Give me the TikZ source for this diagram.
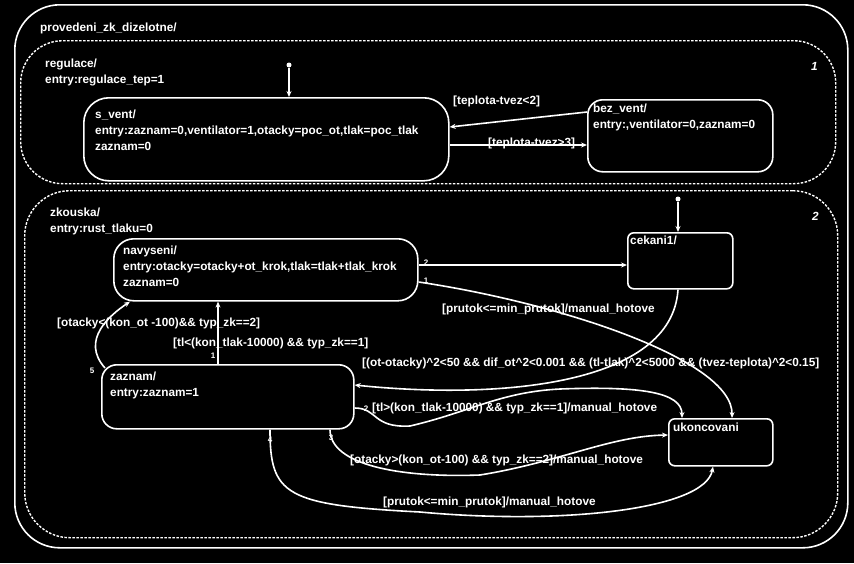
\documentclass[tikz,border=0pt]{standalone}
\usepackage{fontspec}
\setmainfont{Liberation Sans}
\usetikzlibrary{arrows.meta,calc}
\newcommand{\hot}{/manual\_hotove}
\newcommand{\pw}{\textasciicircum}

\begin{document}
\begin{tikzpicture}[
  x=1pt, y=-1pt,
  font=\fontsize{11.8}{16}\selectfont\bfseries,
  text=white,
  >={Stealth[length=6pt,width=5pt]},
  chart/.style={draw=white, line width=1.6pt, rounded corners=45pt, anchor=north west, inner sep=0pt},
  region/.style={draw=white, line width=1.4pt, dash pattern=on 2.5pt off 1.5pt, rounded corners=42pt, anchor=north west, inner sep=0pt},
  st/.style={draw=white, line width=1.6pt, anchor=north west, inner sep=0pt},
  tx/.style={anchor=north west, align=left, inner sep=0pt},
  lb/.style={anchor=west, inner sep=0pt},
  nr/.style={font=\fontsize{8}{9}\selectfont\bfseries, inner sep=0pt},
  dot/.style={circle, fill=white, inner sep=0pt, minimum size=5pt},
  tr/.style={->, draw=white, line width=1.6pt}]

\fill[black] (0,0) rectangle (854,563);
\useasboundingbox (0,0) rectangle (854,563);

% ===== chart =====
\node[chart, minimum width=833, minimum height=543] (main) at (14,4) {};
\node[tx] (main-t) at (40,23) {provedeni\_zk\_dizelotne/};

% ===== 1 regulace =====
\node[region, minimum width=815, minimum height=143] (regulace) at (20,40) {};
\node[tx] (regulace-t) at (45,59) {regulace/\\entry:regulace\_tep=1};
\node[lb] (regulace-n) at (811,66) {\itshape 1};

\node[st, rounded corners=25pt, minimum width=365, minimum height=83] (svent) at (83,97) {};
\node[tx] (svent-t) at (95,110) {s\_vent/\\entry:zaznam=0,ventilator=1,otacky=poc\_ot,tlak=poc\_tlak\\zaznam=0};
\node[st, rounded corners=15pt, minimum width=185, minimum height=72] (bezvent) at (587,99) {};
\node[tx] (bezvent-t) at (593,104) {bez\_vent/\\entry:,ventilator=0,zaznam=0};

\node[dot] (d1) at (289,65) {};
\node[lb] (l1) at (453,101) {[teplota-tvez<2]};
\node[lb] (l2) at (488,143) {[teplota-tvez>3]};

% ===== 2 zkouska =====
\node[region, rounded corners=45pt, minimum width=813, minimum height=347] (zkouska) at (24,190) {};
\node[tx] (zkouska-t) at (50,208) {zkouska/\\entry:rust\_tlaku=0};
\node[lb] (zkouska-n) at (812,216) {\itshape 2};

\node[st, rounded corners=20pt, minimum width=304, minimum height=62] (navyseni) at (113,238) {};
\node[tx] (navyseni-t) at (123,246) {navyseni/\\entry:otacky=otacky+ot\_krok,tlak=tlak+tlak\_krok\\zaznam=0};
\node[st, rounded corners=6pt, minimum width=105, minimum height=56] (cekani) at (627,232) {};
\node[tx] (cekani-t) at (630,236) {cekani1/};
\node[st, rounded corners=15pt, minimum width=252, minimum height=64] (zaznam) at (101,364) {};
\node[tx] (zaznam-t) at (110,372) {zaznam/\\entry:zaznam=1};
\node[st, rounded corners=6pt, minimum width=104, minimum height=47] (ukonc) at (668,418) {};
\node[tx] (ukonc-t) at (673,423) {ukoncovani};

\node[dot] (d2) at (678,199) {};

% labels
\node[lb] (l3) at (57,323) {[otacky<(kon\_ot -100)\&\& typ\_zk==2]};
\node[lb] (l4) at (173,343) {[tl<(kon\_tlak-10000) \&\& typ\_zk==1]};
\node[lb] (l5) at (362,363) {[(ot-otacky)\pw2<50 \&\& dif\_ot\pw2<0.001 \&\& (tl-tlak)\pw2<5000 \&\& (tvez-teplota)\pw2<0.15]};
\node[lb] (l6) at (442,309) {[prutok<=min\_prutok]\hot};
\node[lb] (l7) at (372,408) {[tl>(kon\_tlak-10000) \&\& typ\_zk==1]\hot};
\node[lb] (l8) at (350,460) {[otacky>(kon\_ot-100) \&\& typ\_zk==2]\hot};
\node[lb] (l9) at (383,502) {[prutok<=min\_prutok]\hot};

% order numbers
\node[nr] (n1) at (426,263) {2};
\node[nr] (n2) at (426,281) {1};
\node[nr] (n3) at (366,409) {2};
\node[nr] (n4) at (331,438) {3};
\node[nr] (n5) at (270,440) {4};
\node[nr] (n6) at (92,371) {5};
\node[nr] (n7) at (213,356) {1};

% ===== edges =====
\draw[tr] (d1) -- (d1 |- svent.north);
\draw[tr] ($(bezvent.north west)+(0,13)$) -- ($(svent.north east)+(0,30)$);
\draw[tr] ($(svent.north east)+(0,48)$) -- ($(bezvent.north west)+(0,46)$);

\draw[tr] (d2) -- (d2 |- cekani.north);
\draw[tr] ($(navyseni.north east)+(0,27)$) -- ($(cekani.north west)+(0,33)$);
\draw[tr] ($(navyseni.north east)+(0,44)$) .. controls (560,303) and (733,360) .. ($(ukonc.north west)+(64,0)$);
\draw[tr] ($(cekani.south west)+(51,0)$) .. controls (672,385) and (500,400) .. ($(zaznam.north east)+(0,21)$);
\draw[tr] ($(zaznam.north west)+(117,0)$) -- ($(navyseni.south west)+(105,0)$);
\draw[tr] ($(zaznam.north west)+(4,4)$) .. controls (80,340) and (110,315) .. ($(navyseni.south west)+(17,0)$);
\draw[tr] ($(zaznam.north east)+(0,44)$) .. controls (378,408) and (372,428) .. (410,426)
  .. controls (470,412) and (500,392) .. (560,389)
  .. controls (640,386) and (682,392) .. ($(ukonc.north west)+(14,0)$);
\draw[tr] ($(zaznam.south west)+(229,0)$) .. controls (330,465) and (400,478) .. (480,475)
  .. controls (560,462) and (610,436) .. ($(ukonc.north west)+(0,17)$);
\draw[tr] ($(zaznam.south west)+(169,0)$) .. controls (270,495) and (285,505) .. (420,512)
  .. controls (560,525) and (705,510) .. ($(ukonc.south west)+(45,0)$);

\end{tikzpicture}
\end{document}
